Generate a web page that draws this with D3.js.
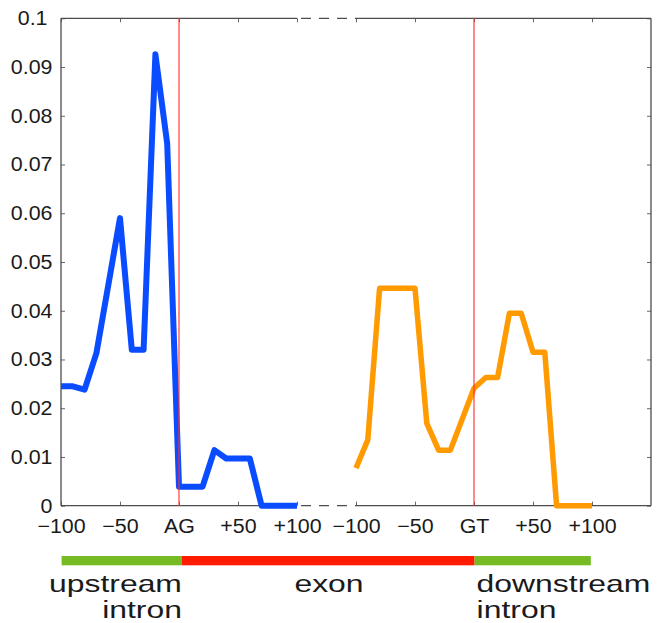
<!DOCTYPE html>
<html>
<head>
<meta charset="utf-8">
<script src="https://cdn.jsdelivr.net/npm/d3@7"></script>
<style>
  html, body { margin: 0; padding: 0; background: #fff; }
  svg { display: block; }
  text { font-family: "Liberation Sans", Arial, Helvetica, sans-serif; fill: #1a1a1a; }
</style>
</head>
<body>
<svg id="chart" width="659" height="623"></svg>
<script>
// Positions relative to the splice site (nt) and signal values
const upstreamPos    = [-100, -90, -80, -70, -50, -40, -30, -20, -10, 0, 10, 20, 30, 40, 50, 60, 70, 80, 90, 100];
const upstreamValues = [0.0245, 0.0245, 0.0238, 0.0313, 0.0590, 0.0320, 0.0320, 0.0926, 0.0743, 0.0039, 0.0039, 0.0039, 0.0114, 0.0097, 0.0097, 0.0097, 0, 0, 0, 0];

const downstreamPos    = [-100, -90, -80, -70, -60, -50, -40, -30, -20, 0, 10, 20, 30, 40, 50, 60, 70, 80, 90, 100];
const downstreamValues = [0.0077, 0.0135, 0.0446, 0.0446, 0.0446, 0.0446, 0.0169, 0.0114, 0.0114, 0.0241, 0.0263, 0.0263, 0.0395, 0.0395, 0.0315, 0.0315, 0, 0, 0, 0];

// Tick labels for the two windows (AG acceptor, GT donor)
const leftTickPos     = [-100, -50, 0, 50, 100];
const leftTickLabels  = ["\u2212100", "\u221250", "AG", "+50", "+100"];
const rightTickPos    = [-100, -50, 0, 50, 100];
const rightTickLabels = ["\u2212100", "\u221250", "GT", "+50", "+100"];
const yTickValues     = [0, 0.01, 0.02, 0.03, 0.04, 0.05, 0.06, 0.07, 0.08, 0.09, 0.1];
const yTickLabels     = ["0", "0.01", "0.02", "0.03", "0.04", "0.05", "0.06", "0.07", "0.08", "0.09", "0.1"];

// Gene-structure strip: regions on the shared axis
const regionNames  = ["upstream", "exon", "downstream"];
const regionStarts = [0.5, 102.5, 350.5];
const regionEnds   = [102.5, 350.5, 449];
const regionColors = ["#76bb24", "#ff1a00", "#76bb24"];

// The two windows share one linear axis: the acceptor window sits at 0..200,
// a 50-unit break follows, then the donor window at 250..450.
const LEFT_OFFSET = 100, RIGHT_OFFSET = 350, BREAK_START = 200, BREAK_END = 250, AXIS_END = 500;

const svg = d3.select("#chart");
const x = d3.scaleLinear().domain([0, AXIS_END]).range([61, 651]);
const y = d3.scaleLinear().domain([0, 0.1]).range([505.7, 18.3]);

const frameColor = "#4d4d4d";
const tickColor = "#666";
const TEXT_STRETCH = 1.07;

// Axes (ticks and labels); frame drawn separately to show the break
const allTickPos = leftTickPos.map(p => p + LEFT_OFFSET).concat(rightTickPos.map(p => p + RIGHT_OFFSET));
const allTickLabels = leftTickLabels.concat(rightTickLabels);

const xAxis = svg.append("g")
  .attr("transform", `translate(0,${y(0)})`)
  .call(d3.axisBottom(x).tickValues(allTickPos)
    .tickFormat((d, i) => allTickLabels[i]).tickSize(-4).tickPadding(13));

svg.append("g")
  .attr("transform", `translate(0,${y(0.1)})`)
  .call(d3.axisTop(x).tickValues(allTickPos).tickFormat("").tickSize(-4));

const yAxis = svg.append("g")
  .attr("transform", `translate(${x(0)},0)`)
  .call(d3.axisLeft(y).tickValues(yTickValues)
    .tickFormat((d, i) => yTickLabels[i]).tickSize(-4).tickPadding(8.5));

svg.append("g")
  .attr("transform", `translate(${x(AXIS_END)},0)`)
  .call(d3.axisRight(y).tickValues(yTickValues).tickFormat("").tickSize(-4));

svg.selectAll(".domain").remove();
svg.selectAll(".tick line").attr("stroke", tickColor).attr("stroke-width", 1);
svg.selectAll(".tick text").attr("fill", "#1a1a1a").style("font-size", "20px");

xAxis.selectAll(".tick text")
  .attr("transform", `scale(${TEXT_STRETCH},1)`);
yAxis.selectAll(".tick text")
  .attr("transform", `scale(${TEXT_STRETCH},1)`)
  .attr("x", function(d) { return (d === 0.1 ? -13.5 : -8.5) / TEXT_STRETCH; });

// Frame with dashed break
const frame = svg.append("g").attr("fill", "none").attr("stroke", frameColor).attr("stroke-width", 1.3);
[y(0), y(0.1)].forEach(yy => {
  frame.append("line").attr("x1", x(0)).attr("x2", x(BREAK_START)).attr("y1", yy).attr("y2", yy);
  frame.append("line").attr("x1", x(BREAK_END)).attr("x2", x(AXIS_END)).attr("y1", yy).attr("y2", yy);
  frame.append("line").attr("x1", x(BREAK_START)).attr("x2", x(BREAK_END)).attr("y1", yy).attr("y2", yy)
    .attr("stroke-dasharray", "10,8").attr("stroke-dashoffset", -4);
});
frame.append("line").attr("x1", x(0)).attr("x2", x(0)).attr("y1", y(0)).attr("y2", y(0.1));
frame.append("line").attr("x1", x(AXIS_END)).attr("x2", x(AXIS_END)).attr("y1", y(0)).attr("y2", y(0.1));

// Signal lines
const line = d3.line().x(d => x(d[0])).y(d => y(d[1]));
const upstreamData = upstreamPos.map((p, i) => [p + LEFT_OFFSET, upstreamValues[i]]);
const downstreamData = downstreamPos.map((p, i) => [p + RIGHT_OFFSET, downstreamValues[i]]);

svg.append("path").datum(upstreamData)
  .attr("d", line).attr("fill", "none")
  .attr("stroke", "#0a4cff").attr("stroke-width", 6)
  .attr("stroke-linejoin", "round").attr("stroke-linecap", "butt");

svg.append("path").datum(downstreamData)
  .attr("d", line).attr("fill", "none")
  .attr("stroke", "#ff9a00").attr("stroke-width", 5.5)
  .attr("stroke-linejoin", "round").attr("stroke-linecap", "butt");

// Splice-site markers
[LEFT_OFFSET, RIGHT_OFFSET].forEach(p => {
  svg.append("line")
    .attr("x1", x(p)).attr("x2", x(p)).attr("y1", y(0)).attr("y2", y(0.1))
    .attr("stroke", "#ff3030").attr("stroke-opacity", 0.8).attr("stroke-width", 1.4);
});

// Gene-structure strip
svg.append("g").selectAll("rect")
  .data(regionNames.map((n, i) => ({ name: n, start: regionStarts[i], end: regionEnds[i], color: regionColors[i] })))
  .join("rect")
  .attr("x", d => x(d.start)).attr("width", d => x(d.end) - x(d.start))
  .attr("y", 556).attr("height", 9.3)
  .attr("fill", d => d.color);

// Region captions
const CAPTION_STRETCH = 1.33;
function caption(txt, px, py, anchor) {
  svg.append("text")
    .attr("transform", `translate(${px},${py}) scale(${CAPTION_STRETCH},1)`)
    .attr("text-anchor", anchor)
    .style("font-size", "24px")
    .text(txt);
}
caption("upstream", x(102.5), 591.7, "end");
caption("intron",   x(102.5), 618.3, "end");
caption("exon",     329,      591.7, "middle");
caption("downstream", x(350.5) + 2, 591.7, "start");
caption("intron",     x(350.5) + 2, 618.3, "start");
</script>
</body>
</html>
